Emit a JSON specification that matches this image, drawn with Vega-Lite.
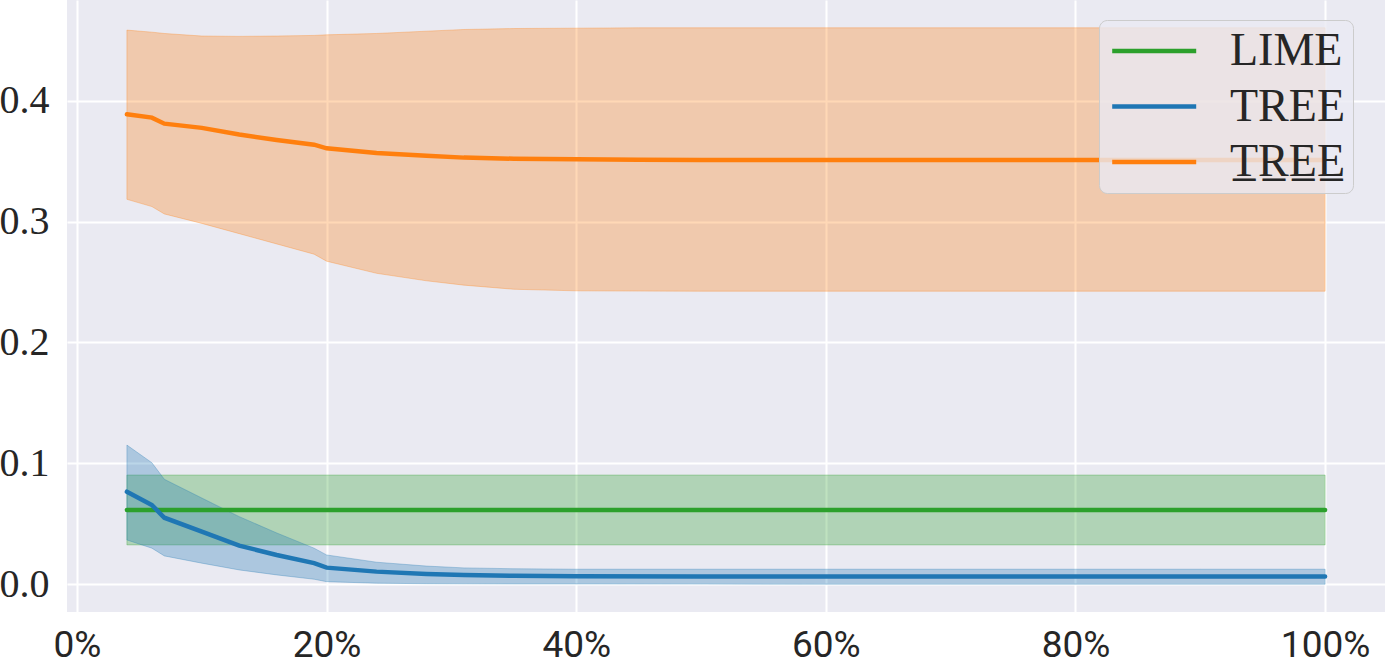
{
  "$schema": "https://vega.github.io/schema/vega-lite/v6.json",
  "width": 1318,
  "height": 612,
  "autosize": {"type": "none"},
  "padding": {"left": 67, "top": 0, "right": 0, "bottom": 53},
  "background": "#ffffff",
  "config": {
    "view": {"fill": "#eaeaf2", "stroke": null},
    "axis": {"domain": false, "ticks": false, "grid": true, "gridColor": "#ffffff", "gridWidth": 2, "title": null, "labelColor": "#262626"}
  },
  "data": {
    "values": [
      {"series": "LIME", "x": 0.04, "mean": 0.0614, "lo": 0.0325, "hi": 0.0903},
      {"series": "LIME", "x": 0.20, "mean": 0.0614, "lo": 0.0325, "hi": 0.0903},
      {"series": "LIME", "x": 0.40, "mean": 0.0614, "lo": 0.0325, "hi": 0.0903},
      {"series": "LIME", "x": 0.60, "mean": 0.0614, "lo": 0.0325, "hi": 0.0903},
      {"series": "LIME", "x": 0.80, "mean": 0.0614, "lo": 0.0325, "hi": 0.0903},
      {"series": "LIME", "x": 1.00, "mean": 0.0614, "lo": 0.0325, "hi": 0.0903},
      {"series": "TREE", "x": 0.04, "mean": 0.0765, "lo": 0.0366, "hi": 0.1151},
      {"series": "TREE", "x": 0.06, "mean": 0.0655, "lo": 0.0298, "hi": 0.1005},
      {"series": "TREE", "x": 0.07, "mean": 0.0550, "lo": 0.0234, "hi": 0.0868},
      {"series": "TREE", "x": 0.10, "mean": 0.0435, "lo": 0.0174, "hi": 0.0713},
      {"series": "TREE", "x": 0.13, "mean": 0.0319, "lo": 0.0118, "hi": 0.0559},
      {"series": "TREE", "x": 0.16, "mean": 0.0242, "lo": 0.0077, "hi": 0.0424},
      {"series": "TREE", "x": 0.19, "mean": 0.0174, "lo": 0.0041, "hi": 0.0298},
      {"series": "TREE", "x": 0.20, "mean": 0.0137, "lo": 0.0021, "hi": 0.0242},
      {"series": "TREE", "x": 0.24, "mean": 0.0104, "lo": 0.0008, "hi": 0.0182},
      {"series": "TREE", "x": 0.28, "mean": 0.0085, "lo": 0.0004, "hi": 0.0150},
      {"series": "TREE", "x": 0.31, "mean": 0.0076, "lo": 0.0003, "hi": 0.0135},
      {"series": "TREE", "x": 0.35, "mean": 0.0070, "lo": 0.0002, "hi": 0.0128},
      {"series": "TREE", "x": 0.40, "mean": 0.0066, "lo": 0.0002, "hi": 0.0124},
      {"series": "TREE", "x": 0.50, "mean": 0.0063, "lo": 0.0001, "hi": 0.0124},
      {"series": "TREE", "x": 0.60, "mean": 0.0063, "lo": 0.0000, "hi": 0.0124},
      {"series": "TREE", "x": 0.70, "mean": 0.0063, "lo": 0.0000, "hi": 0.0124},
      {"series": "TREE", "x": 0.80, "mean": 0.0063, "lo": 0.0000, "hi": 0.0124},
      {"series": "TREE", "x": 0.90, "mean": 0.0063, "lo": 0.0000, "hi": 0.0124},
      {"series": "TREE", "x": 1.00, "mean": 0.0063, "lo": 0.0000, "hi": 0.0124},
      {"series": "TREE underlined", "x": 0.04, "mean": 0.3887, "lo": 0.3184, "hi": 0.4584},
      {"series": "TREE underlined", "x": 0.06, "mean": 0.3860, "lo": 0.3124, "hi": 0.4567},
      {"series": "TREE underlined", "x": 0.07, "mean": 0.3810, "lo": 0.3063, "hi": 0.4556},
      {"series": "TREE underlined", "x": 0.10, "mean": 0.3775, "lo": 0.2985, "hi": 0.4535},
      {"series": "TREE underlined", "x": 0.13, "mean": 0.3720, "lo": 0.2900, "hi": 0.4532},
      {"series": "TREE underlined", "x": 0.16, "mean": 0.3675, "lo": 0.2815, "hi": 0.4535},
      {"series": "TREE underlined", "x": 0.19, "mean": 0.3636, "lo": 0.2730, "hi": 0.4540},
      {"series": "TREE underlined", "x": 0.20, "mean": 0.3606, "lo": 0.2672, "hi": 0.4545},
      {"series": "TREE underlined", "x": 0.24, "mean": 0.3567, "lo": 0.2572, "hi": 0.4556},
      {"series": "TREE underlined", "x": 0.28, "mean": 0.3545, "lo": 0.2510, "hi": 0.4575},
      {"series": "TREE underlined", "x": 0.31, "mean": 0.3529, "lo": 0.2474, "hi": 0.4589},
      {"series": "TREE underlined", "x": 0.35, "mean": 0.3520, "lo": 0.2440, "hi": 0.4597},
      {"series": "TREE underlined", "x": 0.40, "mean": 0.3515, "lo": 0.2427, "hi": 0.4600},
      {"series": "TREE underlined", "x": 0.45, "mean": 0.3511, "lo": 0.2425, "hi": 0.4603},
      {"series": "TREE underlined", "x": 0.50, "mean": 0.3510, "lo": 0.2424, "hi": 0.4603},
      {"series": "TREE underlined", "x": 0.60, "mean": 0.3510, "lo": 0.2424, "hi": 0.4603},
      {"series": "TREE underlined", "x": 0.70, "mean": 0.3510, "lo": 0.2424, "hi": 0.4603},
      {"series": "TREE underlined", "x": 0.80, "mean": 0.3510, "lo": 0.2424, "hi": 0.4603},
      {"series": "TREE underlined", "x": 0.90, "mean": 0.3510, "lo": 0.2424, "hi": 0.4603},
      {"series": "TREE underlined", "x": 1.00, "mean": 0.3510, "lo": 0.2424, "hi": 0.4603}
    ]
  },
  "encoding": {
    "x": {
      "field": "x", "type": "quantitative",
      "scale": {"domain": [-0.008, 1.048], "nice": false, "zero": false},
      "axis": {"values": [0, 0.2, 0.4, 0.6, 0.8, 1.0], "format": ".0%", "labelFont": "Roboto", "labelFontSize": 37, "labelPadding": 15, "labelFlush": false}
    }
  },
  "layer": [
    {
      "transform": [{"filter": "datum.series == 'LIME'"}],
      "mark": {"type": "area", "fill": "#2ca02c", "stroke": "#2ca02c", "fillOpacity": 0.3, "strokeOpacity": 0.3, "strokeWidth": 1},
      "encoding": {"y": {"field": "lo", "type": "quantitative"}, "y2": {"field": "hi"}}
    },
    {
      "transform": [{"filter": "datum.series == 'TREE'"}],
      "mark": {"type": "area", "fill": "#1f77b4", "stroke": "#1f77b4", "fillOpacity": 0.3, "strokeOpacity": 0.3, "strokeWidth": 1},
      "encoding": {"y": {"field": "lo", "type": "quantitative"}, "y2": {"field": "hi"}}
    },
    {
      "transform": [{"filter": "datum.series == 'TREE underlined'"}],
      "mark": {"type": "area", "fill": "#ff7f0e", "stroke": "#ff7f0e", "fillOpacity": 0.3, "strokeOpacity": 0.3, "strokeWidth": 1},
      "encoding": {"y": {"field": "lo", "type": "quantitative"}, "y2": {"field": "hi"}}
    },
    {
      "mark": {"type": "line", "strokeWidth": 4.5, "strokeCap": "round"},
      "encoding": {
        "y": {
          "field": "mean", "type": "quantitative",
          "scale": {"domain": [-0.023, 0.4833], "nice": false, "zero": false},
          "axis": {"values": [0, 0.1, 0.2, 0.3, 0.4], "format": ".1f", "labelFont": "Liberation Serif", "labelFontSize": 40, "labelPadding": 18}
        },
        "color": {
          "field": "series", "type": "nominal",
          "scale": {"domain": ["LIME", "TREE", "TREE underlined"], "range": ["#2ca02c", "#1f77b4", "#ff7f0e"]},
          "legend": {
            "orient": "none", "legendX": 1032, "legendY": 20, "title": null,
            "symbolType": "M-0.89,0L3.31,0", "symbolSize": 1600, "symbolStrokeWidth": 4.5,
            "labelFont": "Liberation Serif", "labelFontSize": 46, "labelColor": "#262626",
            "labelOffset": 77, "padding": 8, "rowPadding": 9.5,
            "fillColor": "rgba(234,234,242,0.8)", "strokeColor": "#cccccc", "cornerRadius": 8,
            "labelExpr": "datum.label == 'TREE underlined' ? 'T\u0332R\u0332E\u0332E\u0332' : datum.label"
          }
        }
      }
    }
  ]
}
